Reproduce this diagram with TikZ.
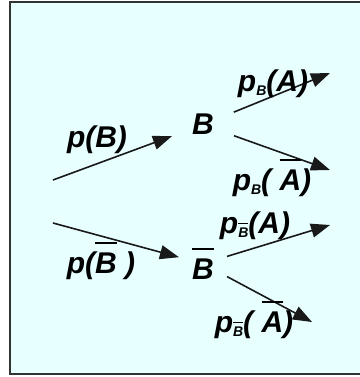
\documentclass[tikz,border=0pt]{standalone}
\usepackage{fontspec}
\setmainfont{Liberation Sans}
\usetikzlibrary{arrows.meta}

\definecolor{treebg}{RGB}{232,255,255}

% barre au-dessus d'un evenement
\newcommand{\olbar}[1]{\vbox{\hrule height .06em\kern .27em\hbox{#1}}}
% indice de la probabilite conditionnelle
\newcommand{\psub}[1]{\raisebox{-4pt}{\fontsize{14}{16}\selectfont\bfseries\itshape #1}}

\begin{document}
\begin{tikzpicture}[
    x=1pt, y=-1pt,
    % styles
    evt/.style = {font=\fontsize{30}{36}\selectfont\bfseries\itshape, inner ysep=2pt},
    lbl/.style = {font=\fontsize{30}{36}\selectfont\bfseries\itshape, inner sep=0pt, anchor=base},
    arr/.style = {-{Triangle[length=19pt,width=14pt]}, line width=1.6pt, draw=black!90},
]
\useasboundingbox (0,0) rectangle (359,377);
\draw[line width=1.5pt, draw=black!80, fill=treebg] (10,2) rectangle (366,374);

% -- Evenements B et non B ----------------------------------------
\node[evt, inner xsep=20pt, anchor=base] (B)  at (203,135) {B};
\node[evt, inner xsep=13pt, anchor=base] (Bb) at (203,279) {\olbar{B}};

% -- Extremites libres ---------------------------------------------
\coordinate (r1) at (53,180);
\coordinate (r2) at (53,223);
\coordinate (a1) at (330,73);
\coordinate (a2) at (330,170);
\coordinate (a3) at (330,225);
\coordinate (a4) at (312,322);

% -- Branches --------------------------------------------------------
\draw[arr] (r1) -- (B);
\draw[arr] (r2) -- (Bb);
\draw[arr] (B)  -- (a1);
\draw[arr] (B)  -- (a2);
\draw[arr] (Bb) -- (a3);
\draw[arr] (Bb) -- (a4);

% -- Probabilites ----------------------------------------------------
\node[lbl] (pB)    at (97,147)  {p(B)};
\node[lbl] (pBb)   at (101,273) {p(\olbar{B} )};
\node[lbl] (pBA)   at (273,92)  {p\psub{B}(A)};
\node[lbl] (pBAb)  at (272,190) {p\psub{B}( \olbar{A})};
\node[lbl] (pBbA)  at (255,233) {p\psub{\olbar{B}}(A)};
\node[lbl] (pBbAb) at (254,332) {p\psub{\olbar{B}}( \olbar{A})};

\end{tikzpicture}
\end{document}
